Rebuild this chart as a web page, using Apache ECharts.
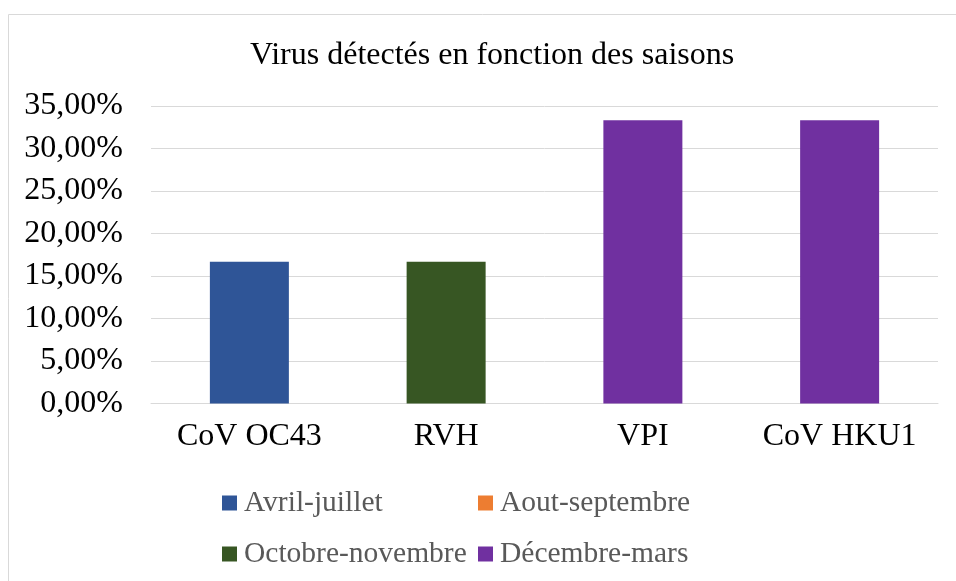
<!DOCTYPE html>
<html><head><meta charset="utf-8">
<script src="https://cdn.jsdelivr.net/npm/echarts@6/dist/echarts.min.js"></script>
<style>html,body{margin:0;padding:0;background:#fff}#c{width:956px;height:581px}</style>
</head><body><div id="c"></div>
<script>
const categories = ['CoV OC43', 'RVH', 'VPI', 'CoV HKU1'];
const seriesNames = ['Avril-juillet', 'Aout-septembre', 'Octobre-novembre', 'Décembre-mars'];
const avrilJuillet = [16.67, 0, 0, 0];
const aoutSeptembre = [0, 0, 0, 0];
const octobreNovembre = [0, 16.67, 0, 0];
const decembreMars = [0, 0, 33.33, 33.33];
const seriesValues = [avrilJuillet, aoutSeptembre, octobreNovembre, decembreMars];
const colors = ['#2F5597', '#ED7D31', '#375623', '#7030A0'];
const font = '"Liberation Serif", "Times New Roman", serif';

const chart = echarts.init(document.getElementById('c'));
const legendPos = [[222, 488], [478, 488], [222, 539], [478, 539]];
chart.setOption({
  animation: false,
  color: colors,
  graphic: [{type: 'rect', shape: {x: 8.5, y: 14.5, width: 960, height: 600}, style: {fill: 'none', stroke: '#d9d9d9', lineWidth: 1}}],
  title: {text: 'Virus détectés en fonction des saisons', left: 245, top: 35,
    textStyle: {fontFamily: font, fontSize: 32, fontWeight: 'normal', color: '#000'}},
  legend: seriesNames.map((n, i) => ({
    data: [n], left: legendPos[i][0], top: legendPos[i][1], itemWidth: 15, itemHeight: 15, itemGap: 0,
    icon: 'rect', selectedMode: false, padding: 0,
    textStyle: {fontFamily: font, fontSize: 29.5, lineHeight: 30, color: '#595959', padding: [0, 0, 0, 2]}
  })),
  grid: {left: 151, right: 18, top: 106, bottom: 177.5, containLabel: false},
  xAxis: {type: 'category', data: categories,
    axisLine: {lineStyle: {color: '#d9d9d9', width: 1}}, axisTick: {show: false},
    axisLabel: {fontFamily: font, fontSize: 32, color: '#000', margin: 17, interval: 0, hideOverlap: false}},
  yAxis: {type: 'value', min: 0, max: 35, interval: 5,
    axisLine: {show: false}, axisTick: {show: false},
    splitLine: {lineStyle: {color: '#d9d9d9', width: 1}},
    axisLabel: {fontFamily: font, fontSize: 32, color: '#000', margin: 28,
      formatter: v => v.toFixed(2).replace('.', ',') + '%'}},
  series: seriesNames.map((n, i) => ({
    name: n, type: 'bar', stack: 'all', data: seriesValues[i], barWidth: 79,
    itemStyle: {color: colors[i]}
  }))
});
</script></body></html>
